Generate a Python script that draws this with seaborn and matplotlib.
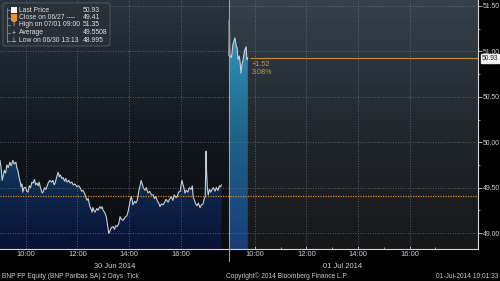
import numpy as np
import pandas as pd
import matplotlib
matplotlib.use("Agg")
import matplotlib.pyplot as plt
import seaborn as sns
from matplotlib.colors import LinearSegmentedColormap
from matplotlib.patches import FancyBboxPatch, Rectangle, PathPatch
from matplotlib.path import Path
from matplotlib.lines import Line2D

# ---------------- data ----------------
day1_minutes = [0, 3, 5, 8, 10, 13, 16, 19, 23, 26, 30, 33, 37, 39, 42, 44, 47, 49, 51, 53,
                56, 60, 62, 65, 68, 71, 74, 77, 80, 83, 86, 89, 91, 94, 96, 98, 100, 104, 107, 109,
                112, 116, 120, 123, 126, 128, 131, 135, 138, 140, 144, 147, 150, 153, 156, 160, 163, 167, 170, 174,
                179, 183, 186, 190, 193, 196, 198, 202, 205, 209, 212, 214, 216, 219, 221, 225, 228, 232, 235, 237,
                240, 244, 247, 249, 251, 253, 256, 259, 263, 266, 269, 272, 276, 279, 282, 286, 289, 292, 295, 298,
                302, 305, 307, 309, 313, 316, 319, 323, 326, 328, 330, 333, 337, 340, 344, 348, 352, 356, 359, 362,
                366, 369, 372, 375, 379, 383, 386, 391, 395, 398, 402, 405, 409, 412, 415, 419, 421, 423, 425, 428,
                430, 433, 437, 440, 444, 447, 449, 452, 455, 458, 461, 465, 468, 472, 475, 477, 479, 480, 482, 484,
                487, 490, 493, 496, 500, 503, 507, 510, 513, 515]
day1_prices = [49.80, 49.70, 49.58, 49.64, 49.69, 49.66, 49.75, 49.72, 49.78, 49.74, 49.80, 49.76, 49.78, 49.72, 49.68, 49.62, 49.56, 49.51, 49.54, 49.45,
               49.50, 49.50, 49.46, 49.45, 49.52, 49.50, 49.56, 49.55, 49.59, 49.53, 49.55, 49.52, 49.56, 49.50, 49.47, 49.44, 49.45, 49.50, 49.48, 49.51,
               49.55, 49.58, 49.56, 49.58, 49.53, 49.55, 49.60, 49.67, 49.62, 49.64, 49.60, 49.61, 49.57, 49.60, 49.56, 49.58, 49.55, 49.56, 49.53, 49.54,
               49.51, 49.52, 49.50, 49.46, 49.47, 49.44, 49.42, 49.36, 49.38, 49.29, 49.26, 49.23, 49.28, 49.24, 49.23, 49.27, 49.25, 49.29, 49.27, 49.29,
               49.25, 49.22, 49.18, 49.12, 49.06, 48.995, 49.03, 49.06, 49.07, 49.04, 49.08, 49.07, 49.10, 49.18, 49.15, 49.14, 49.16, 49.18, 49.19, 49.24,
               49.34, 49.40, 49.37, 49.31, 49.35, 49.33, 49.36, 49.47, 49.53, 49.58, 49.55, 49.50, 49.47, 49.50, 49.44, 49.46, 49.42, 49.42, 49.38, 49.40,
               49.35, 49.33, 49.29, 49.32, 49.31, 49.34, 49.37, 49.34, 49.38, 49.40, 49.36, 49.42, 49.39, 49.40, 49.45, 49.46, 49.53, 49.58, 49.54, 49.49,
               49.44, 49.47, 49.45, 49.50, 49.48, 49.52, 49.40, 49.36, 49.32, 49.30, 49.33, 49.28, 49.31, 49.32, 49.38, 49.40, 49.90, 49.70, 49.50, 49.42,
               49.48, 49.45, 49.48, 49.50, 49.46, 49.50, 49.47, 49.52, 49.51, 49.53]
day2_minutes = [0, 1, 2, 5, 7, 9, 12, 14, 17, 19, 21, 24, 26, 28, 30, 33, 35, 37, 40, 42, 44]
day2_prices = [50.95, 51.35, 50.96, 50.93, 50.97, 51.07, 51.12, 51.15, 51.06, 51.04, 50.91, 50.95, 50.88, 50.76,
               50.85, 50.91, 50.97, 51.02, 51.05, 50.91, 50.93]

close_prev = 49.41
last_price = 50.93
change_abs = "+1.52"
change_pct = "3.08%"
y_ticks = [49.0, 49.5, 50.0, 50.5, 51.0, 51.5]
x_tick_hours = [10, 12, 14, 16]
date_labels = ["30 Jun 2014", "01 Jul 2014"]
legend_labels = ["Last Price", "Close on 06/27 ----", "High on 07/01 09:00", "Average", "Low on 06/30 13:13"]
legend_values = ["50.93", "49.41", "51.35", "49.5508", "48.995"]

# ---------------- layout constants ----------------
W, H = 500, 281
DAY2 = 8.87          # chart-hour position of day 2 open
XMAX = 18.52
YMIN, YMAX = 48.824, 51.566

sns.set_theme(style="dark")
plt.rcParams['font.family'] = ['Liberation Sans', 'DejaVu Sans']

fig = plt.figure(figsize=(W / 100, H / 100), dpi=100, facecolor="black")
ax = fig.add_axes([0, 1 - 249 / H, 478 / W, 249 / H])
ax.set_facecolor("black")

d1 = pd.DataFrame({"x": np.array(day1_minutes) / 60.0, "price": day1_prices})
d2 = pd.DataFrame({"x": DAY2 + np.array(day2_minutes) / 60.0, "price": day2_prices})

grad = np.linspace(1, 0, 256).reshape(-1, 1)
cm_left = LinearSegmentedColormap.from_list("l", ["#0a0b0d", "#131920", "#28343e"])
cm_right = LinearSegmentedColormap.from_list("r", ["#161719", "#22282e", "#34414b"])
ax.imshow(grad, extent=[0, DAY2, YMIN, YMAX], aspect="auto", cmap=cm_left, zorder=0, vmin=0, vmax=1)
ax.imshow(grad, extent=[DAY2, XMAX, YMIN, YMAX], aspect="auto", cmap=cm_right, zorder=0, vmin=0, vmax=1)


def grad_fill(df, cmap, top):
    xs = df["x"].to_numpy()
    ys = df["price"].to_numpy()
    verts = [(xs[0], YMIN)] + list(zip(xs, ys)) + [(xs[-1], YMIN), (xs[0], YMIN)]
    codes = [Path.MOVETO] + [Path.LINETO] * (len(verts) - 2) + [Path.CLOSEPOLY]
    patch = PathPatch(Path(verts, codes), transform=ax.transData, facecolor="none", edgecolor="none")
    ax.add_patch(patch)
    im = ax.imshow(grad, extent=[xs[0], xs[-1], YMIN, top], aspect="auto", cmap=cmap,
                   zorder=1, vmin=0, vmax=1)
    im.set_clip_path(patch)


grad_fill(d1, LinearSegmentedColormap.from_list("f1", ["#0a1135", "#0d2449", "#14426c"]), 49.95)
grad_fill(d2, LinearSegmentedColormap.from_list("f2", ["#1a3d78", "#1e638a", "#3699bf"]), 51.35)

# grid
for yv in y_ticks:
    ax.axhline(yv, color="#6a7178", lw=0.6, ls=(0, (1, 2)), zorder=2)
for h in x_tick_hours:
    for off in (0, DAY2):
        ax.axvline(off + h - 9, color="#6a7178", lw=0.6, ls=(0, (1, 2)), zorder=2)

sns.lineplot(data=d1, x="x", y="price", ax=ax, color="#c7cfd6", lw=0.8, estimator=None, sort=False, zorder=4)
sns.lineplot(data=d2, x="x", y="price", ax=ax, color="#c7cfd6", lw=0.8, estimator=None, sort=False, zorder=4)

ax.axhline(close_prev, color="#d08a2c", lw=0.9, ls=(0, (1, 1)), zorder=3)
ax.hlines(last_price, 250 / 25.8, XMAX, color="#c98a2e", lw=0.8, zorder=3)
ax.text(252 / 25.8, 50.86, change_abs, color="#d8923a", fontsize=5.2, va="center", ha="left", zorder=5)
ax.text(252 / 25.8, 50.77, change_pct, color="#d8923a", fontsize=5.2, va="center", ha="left", zorder=5)

ax.axvline(DAY2, ymin=-0.05, ymax=1, color="#9aa0a6", lw=0.8, clip_on=False, zorder=5)

ax.set_xlim(0, XMAX)
ax.set_ylim(YMIN, YMAX)
ax.set_xlabel("")
ax.set_ylabel("")

# y axis on the right
ax.yaxis.tick_right()
ax.set_yticks(y_ticks)
ax.set_yticklabels([f"{v:.2f}" for v in y_ticks])
ax.set_yticks(np.arange(49.25, 51.5, 0.5), minor=True)
ax.tick_params(axis="y", which="both", right=True, left=False, direction="out", colors="#d0d0d0",
               labelsize=4.9, pad=0.5)
ax.tick_params(axis="y", which="major", length=3, width=0.6)
ax.tick_params(axis="y", which="minor", length=1.5, width=0.5)

xt = [h - 9 for h in x_tick_hours] + [DAY2 + h - 9 for h in x_tick_hours]
ax.set_xticks(xt)
ax.set_xticklabels([f"{h}:00" for h in x_tick_hours] * 2)
xm = [h - 9 for h in (11, 13, 15, 17)] + [DAY2 + h - 9 for h in (11, 13, 15, 17)]
ax.set_xticks(xm, minor=True)
ax.tick_params(axis="x", which="both", bottom=True, direction="in", colors="#d0d0d0",
               labelsize=5.4, pad=1.5)
ax.tick_params(axis="x", which="major", length=2, width=0.6)
ax.tick_params(axis="x", which="minor", length=1.5, width=0.5)

for s in ("top", "left"):
    ax.spines[s].set_visible(False)
for s in ("right", "bottom"):
    ax.spines[s].set_visible(True)
    ax.spines[s].set_color("#d8d8d8")
    ax.spines[s].set_linewidth(0.8)

# last price box on axis
fig.text(490 / W, 1 - 58 / H, f"{last_price:.2f}", fontsize=4.8, color="#202020", ha="center", va="center",
         bbox=dict(boxstyle="square,pad=0.15", fc="#f0f0f0", ec="#f0f0f0"))

# dates & footer
fig.text(115 / W, 1 - 267 / H, date_labels[0], fontsize=5.4, color="#d0d0d0", ha="center", va="center")
fig.text(343 / W, 1 - 267 / H, date_labels[1], fontsize=5.4, color="#d0d0d0", ha="center", va="center")
fig.text(2 / W, 1 - 276 / H, "BNP FP Equity (BNP Paribas SA) 2 Days  Tick", fontsize=4.8, color="#c8c8c8",
         ha="left", va="center")
fig.text(287 / W, 1 - 276 / H, "Copyright\u00a9 2014 Bloomberg Finance L.P.", fontsize=4.8, color="#c8c8c8",
         ha="center", va="center")
fig.text(498 / W, 1 - 276 / H, "01-Jul-2014 10:01:33", fontsize=4.8, color="#c8c8c8", ha="right", va="center")

# legend box
fig.patches.append(FancyBboxPatch((3 / W, 1 - 46 / H), 107 / W, 43 / H, boxstyle="round,pad=0,rounding_size=0.006",
                                  transform=fig.transFigure, fc="#2a3038", ec="#59606a", lw=0.6, alpha=0.92))
rows = [10, 17.5, 25, 33, 41]
fig.lines.append(Line2D([7 / W, 7 / W], [1 - 8 / H, 1 - 42 / H], transform=fig.transFigure, color="#9aa0a6", lw=0.5))
for r in rows:
    fig.lines.append(Line2D([7 / W, 10 / W], [1 - r / H, 1 - r / H], transform=fig.transFigure,
                            color="#9aa0a6", lw=0.5))
fig.patches.append(Rectangle((11 / W, 1 - 13 / H), 6 / W, 6 / H, transform=fig.transFigure, fc="#ffffff", ec="none"))
fig.patches.append(Rectangle((11 / W, 1 - 20.5 / H), 6 / W, 6 / H, transform=fig.transFigure, fc="#e8962c", ec="none"))
for glyph, r in zip(["T", "+", "\u22a5"], rows[2:]):
    fig.text(13.5 / W, 1 - r / H, glyph, fontsize=4.8, color="#d8d8d8", ha="center", va="center")
for lab, val, r in zip(legend_labels, legend_values, rows):
    fig.text(19 / W, 1 - r / H, lab, fontsize=4.9, color="#e0e0e0", ha="left", va="center")
    fig.text(83 / W, 1 - r / H, val, fontsize=4.9, color="#e0e0e0", ha="left", va="center")

fig.savefig("out.png", dpi=100, facecolor="black")
